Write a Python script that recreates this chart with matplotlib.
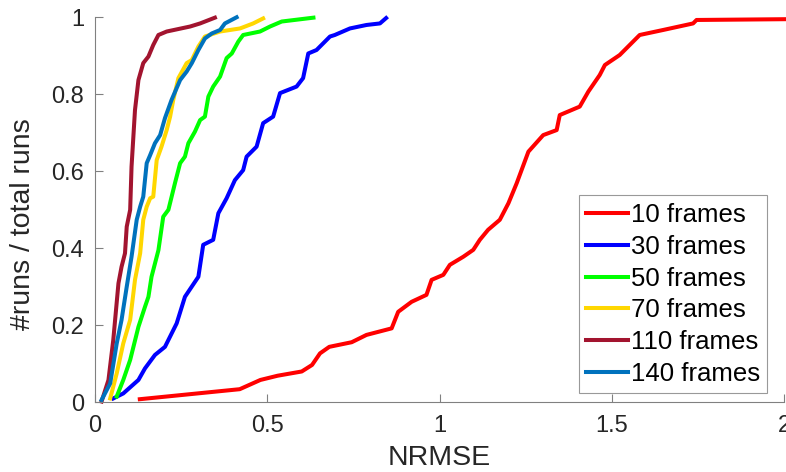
import matplotlib.pyplot as plt

plt.rcParams['font.family'] = ['Liberation Sans', 'DejaVu Sans']

labels = ['10 frames', '30 frames', '50 frames', '70 frames', '110 frames', '140 frames']
colors = ['#ff0000', '#0000ff', '#00ff00', '#ffd700', '#a2142f', '#0072bd']

# NRMSE (x) and cumulative fraction of runs (y)
x10 = [0.13, 0.42, 0.48, 0.53, 0.60, 0.63, 0.653, 0.68, 0.745, 0.788, 0.861, 0.88, 0.919,
       0.962, 0.977, 1.011, 1.03, 1.069, 1.098, 1.117, 1.141, 1.175, 1.20, 1.224, 1.258,
       1.301, 1.34, 1.349, 1.407, 1.432, 1.465, 1.48, 1.523, 1.581, 1.649, 1.736, 1.746, 2.0]
y10 = [0.008, 0.034, 0.058, 0.069, 0.08, 0.097, 0.127, 0.144, 0.156, 0.175, 0.192, 0.235, 0.261,
       0.279, 0.318, 0.331, 0.357, 0.378, 0.396, 0.422, 0.448, 0.474, 0.517, 0.569, 0.651,
       0.694, 0.707, 0.746, 0.768, 0.807, 0.85, 0.876, 0.902, 0.954, 0.967, 0.984, 0.993, 0.995]

x30 = [0.053, 0.082, 0.126, 0.145, 0.174, 0.203, 0.237, 0.261, 0.30, 0.314, 0.343, 0.358,
       0.382, 0.406, 0.43, 0.44, 0.469, 0.488, 0.517, 0.537, 0.585, 0.604, 0.619, 0.643,
       0.682, 0.696, 0.74, 0.788, 0.827, 0.845]
y30 = [0.01, 0.023, 0.058, 0.088, 0.123, 0.144, 0.205, 0.274, 0.326, 0.409, 0.422, 0.491,
       0.53, 0.577, 0.603, 0.638, 0.664, 0.725, 0.742, 0.803, 0.82, 0.842, 0.906, 0.915,
       0.95, 0.954, 0.971, 0.98, 0.984, 0.998]

x50 = [0.063, 0.082, 0.102, 0.126, 0.145, 0.155, 0.164, 0.184, 0.198, 0.213, 0.232, 0.247,
       0.261, 0.271, 0.29, 0.305, 0.319, 0.329, 0.343, 0.363, 0.382, 0.397, 0.416, 0.43,
       0.479, 0.508, 0.542, 0.634]
y50 = [0.015, 0.058, 0.11, 0.196, 0.248, 0.274, 0.326, 0.395, 0.482, 0.50, 0.569, 0.621,
       0.638, 0.673, 0.703, 0.733, 0.742, 0.794, 0.82, 0.846, 0.894, 0.906, 0.937, 0.954,
       0.963, 0.976, 0.989, 0.999]

x70 = [0.044, 0.063, 0.082, 0.102, 0.116, 0.131, 0.14, 0.15, 0.16, 0.169, 0.179, 0.193,
       0.208, 0.218, 0.227, 0.242, 0.266, 0.281, 0.30, 0.319, 0.363, 0.421, 0.459, 0.488]
y70 = [0.01, 0.075, 0.153, 0.214, 0.318, 0.387, 0.474, 0.508, 0.53, 0.534, 0.629, 0.664,
       0.707, 0.742, 0.785, 0.842, 0.881, 0.889, 0.924, 0.95, 0.963, 0.971, 0.984, 0.997]

x110 = [0.019, 0.039, 0.053, 0.068, 0.077, 0.087, 0.092, 0.102, 0.106, 0.116, 0.126, 0.14,
        0.155, 0.169, 0.184, 0.208, 0.276, 0.305, 0.348]
y110 = [0.002, 0.058, 0.162, 0.309, 0.352, 0.387, 0.456, 0.50, 0.612, 0.759, 0.837, 0.881,
        0.898, 0.928, 0.954, 0.963, 0.976, 0.984, 0.999]

x140 = [0.019, 0.044, 0.063, 0.077, 0.092, 0.106, 0.121, 0.131, 0.14, 0.15, 0.16, 0.174,
        0.189, 0.203, 0.222, 0.247, 0.266, 0.281, 0.30, 0.319, 0.339, 0.363, 0.377, 0.411]
y140 = [0.006, 0.049, 0.153, 0.214, 0.30, 0.378, 0.474, 0.508, 0.534, 0.621, 0.642, 0.673,
        0.694, 0.738, 0.785, 0.837, 0.859, 0.881, 0.915, 0.945, 0.958, 0.967, 0.984, 1.0]

xs = [x10, x30, x50, x70, x110, x140]
ys = [y10, y30, y50, y70, y110, y140]

fig = plt.figure(figsize=(7.86, 4.72), dpi=100)
ax = fig.add_axes([0.1209, 0.1477, 0.8766, 0.8157])

for x, y, c, lab in zip(xs, ys, colors, labels):
    ax.plot(x, y, color=c, lw=2.9, label=lab, clip_on=False)

ax.set_xlim(0, 2)
ax.set_ylim(0, 1)
ax.set_xticks([0, 0.5, 1, 1.5, 2])
ax.set_xticklabels(['0', '0.5', '1', '1.5', '2'])
ax.set_yticks([0, 0.2, 0.4, 0.6, 0.8, 1])
ax.set_yticklabels(['0', '0.2', '0.4', '0.6', '0.8', '1'])
ax.tick_params(direction='in', length=5.5, width=0.8, colors='#808080',
               labelcolor='#262626', labelsize=17)
ax.tick_params(axis='x', pad=9)
ax.tick_params(axis='y', pad=8)
for s in ['top', 'right']:
    ax.spines[s].set_visible(False)
for s in ['left', 'bottom']:
    ax.spines[s].set_color('#808080')
    ax.spines[s].set_linewidth(0.8)

ax.set_xlabel('NRMSE', fontsize=20.5, color='#262626', labelpad=6)
fig.text(23 / 786, 1 - 224 / 472, '#runs / total runs', fontsize=20.5, color='#262626',
         rotation=90, ha='center', va='center')

leg = ax.legend(loc='lower right', bbox_to_anchor=(0.976, 0.023), fontsize=18.5,
                frameon=True, fancybox=False, edgecolor='#808080', handlelength=1.6,
                handletextpad=0.12, labelspacing=0.3, borderpad=0.3, borderaxespad=0)
leg.get_frame().set_linewidth(0.8)

fig.savefig('out.png', dpi=100)
